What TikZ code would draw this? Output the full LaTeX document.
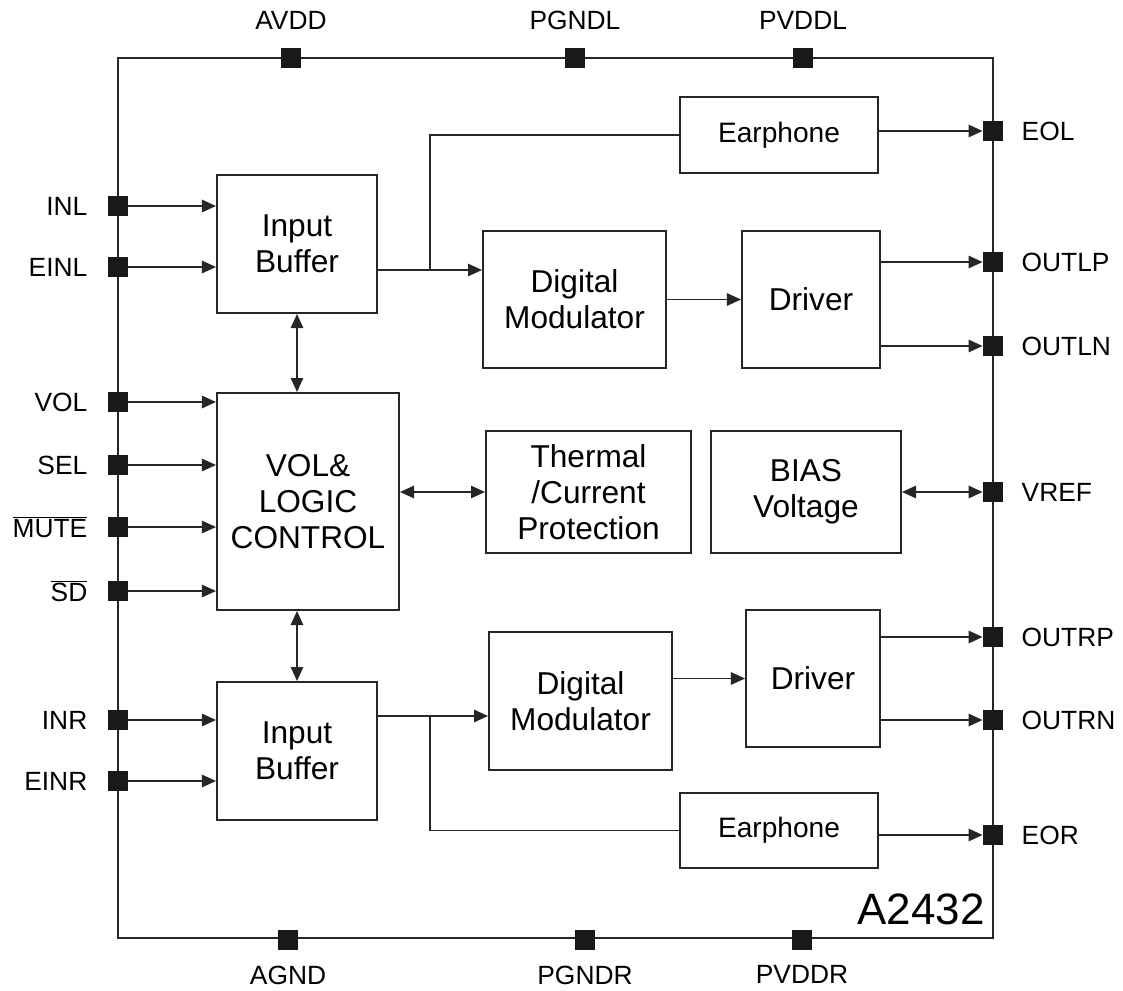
\documentclass[tikz,border=0pt]{standalone}
\usepackage{fontspec}
\setmainfont{Liberation Sans}
\usetikzlibrary{positioning, arrows.meta}

\begin{document}
\begin{tikzpicture}[
    x=0.02cm, y=-0.02cm,
    font=\fontsize{18}{20.5}\selectfont,
    block/.style={rectangle, draw=black!85, line width=1.1pt, align=center, inner sep=0pt},
    smallblock/.style={block, font=\fontsize{16}{18}\selectfont},
    pad/.style={rectangle, fill=black!90, minimum size=0.4cm, inner sep=0pt},
    pinlabel/.style={font=\fontsize{15}{18}\selectfont, inner sep=0pt},
    wire/.style={line width=1.1pt, color=black!85},
    sig/.style={wire, -{Triangle[length=8pt, width=7pt]}},
    bisig/.style={wire, {Triangle[length=8pt, width=7pt]}-{Triangle[length=8pt, width=7pt]}}
]
    \useasboundingbox (0,0) rectangle (1123,991);

    % chip outline
    \node[block, minimum width=17.5cm, minimum height=17.6cm] (chip) at (555.5,498) {};
    \node[font=\fontsize{25}{30}\selectfont, anchor=south east, inner sep=0pt] (partno) at (985,925) {A2432};

    % functional blocks
    \node[block, minimum width=3.2cm, minimum height=2.76cm] (bufL) at (297,244) {Input\\Buffer};
    \node[block, minimum width=3.66cm, minimum height=2.74cm] (modL) at (574.5,299.5) {Digital\\Modulator};
    \node[block, minimum width=2.76cm, minimum height=2.74cm] (drvL) at (811,299.5) {Driver};
    \node[smallblock, minimum width=3.96cm, minimum height=1.52cm] (earL) at (779,135) {Earphone};
    \node[block, minimum width=3.64cm, minimum height=4.34cm] (ctrl) at (308,501.5) {VOL\&\\LOGIC\\CONTROL};
    \node[block, minimum width=4.1cm, minimum height=2.44cm] (therm) at (588.5,492) {Thermal\\/Current\\Protection};
    \node[block, minimum width=3.8cm, minimum height=2.44cm] (bias) at (806,492) {BIAS\\Voltage};
    \node[block, minimum width=3.66cm, minimum height=2.76cm] (modR) at (580.5,701) {Digital\\Modulator};
    \node[block, minimum width=2.68cm, minimum height=2.74cm] (drvR) at (813,678.5) {Driver};
    \node[block, minimum width=3.2cm, minimum height=2.76cm] (bufR) at (297,751) {Input\\Buffer};
    \node[smallblock, minimum width=3.96cm, minimum height=1.5cm] (earR) at (779,830.5) {Earphone};

    % top and bottom pins
    \node[pad, label={[pinlabel, label distance=0.36cm]above:AVDD}] (avdd) at (291,58) {};
    \node[pad, label={[pinlabel, label distance=0.36cm]above:PGNDL}] (pgndl) at (575,58) {};
    \node[pad, label={[pinlabel, label distance=0.36cm]above:PVDDL}] (pvddl) at (803,58) {};
    \node[pad, label={[pinlabel, label distance=0.3cm]below:AGND}] (agnd) at (288,940) {};
    \node[pad, label={[pinlabel, label distance=0.3cm]below:PGNDR}] (pgndr) at (585,940) {};
    \node[pad, label={[pinlabel, label distance=0.3cm]below:PVDDR}] (pvddr) at (802,940) {};

    % left pins
    \node[pad, label={[pinlabel, label distance=0.4cm]left:INL}] (inl) at (118,206) {};
    \node[pad, label={[pinlabel, label distance=0.4cm]left:EINL}] (einl) at (118,267) {};
    \node[pad, label={[pinlabel, label distance=0.4cm]left:VOL}] (vol) at (118,402) {};
    \node[pad, label={[pinlabel, label distance=0.4cm]left:SEL}] (sel) at (118,465) {};
    \node[pad, label={[pinlabel, label distance=0.4cm]left:$\overline{\mbox{MUTE}}$}] (mute) at (118,527) {};
    \node[pad, label={[pinlabel, label distance=0.4cm]left:$\overline{\mbox{SD}}$}] (sd) at (118,591) {};
    \node[pad, label={[pinlabel, label distance=0.4cm]left:INR}] (inr) at (118,720) {};
    \node[pad, label={[pinlabel, label distance=0.4cm]left:EINR}] (einr) at (118,781) {};

    % right pins
    \node[pad, label={[pinlabel, label distance=0.36cm]right:EOL}] (eol) at (993,131) {};
    \node[pad, label={[pinlabel, label distance=0.36cm]right:OUTLP}] (outlp) at (993,262) {};
    \node[pad, label={[pinlabel, label distance=0.36cm]right:OUTLN}] (outln) at (993,346) {};
    \node[pad, label={[pinlabel, label distance=0.36cm]right:VREF}] (vref) at (993,492) {};
    \node[pad, label={[pinlabel, label distance=0.36cm]right:OUTRP}] (outrp) at (993,637) {};
    \node[pad, label={[pinlabel, label distance=0.36cm]right:OUTRN}] (outrn) at (993,720) {};
    \node[pad, label={[pinlabel, label distance=0.36cm]right:EOR}] (eor) at (993,835) {};

    \coordinate (splitL) at (430,270);
    \coordinate (splitR) at (430,716);

    % inputs
    \draw[sig] (inl.east) -- (inl -| bufL.west);
    \draw[sig] (einl.east) -- (einl -| bufL.west);
    \draw[sig] (vol.east) -- (vol -| ctrl.west);
    \draw[sig] (sel.east) -- (sel -| ctrl.west);
    \draw[sig] (mute.east) -- (mute -| ctrl.west);
    \draw[sig] (sd.east) -- (sd -| ctrl.west);
    \draw[sig] (inr.east) -- (inr -| bufR.west);
    \draw[sig] (einr.east) -- (einr -| bufR.west);

    % left channel
    \draw[sig] (bufL.east |- splitL) -- (modL.west |- splitL);
    \draw[wire] (splitL) |- (earL.west);
    \draw[sig] (modL.east) -- (drvL.west);
    \draw[sig] (eol -| earL.east) -- (eol.west);
    \draw[sig] (outlp -| drvL.east) -- (outlp.west);
    \draw[sig] (outln -| drvL.east) -- (outln.west);

    % control
    \draw[bisig] (bufL.south) -- (bufL.south |- ctrl.north);
    \draw[bisig] (bufR.north |- ctrl.south) -- (bufR.north);
    \draw[bisig] (ctrl.east |- therm.west) -- (therm.west);
    \draw[bisig] (bias.east |- vref) -- (vref.west);

    % right channel
    \draw[sig] (bufR.east |- splitR) -- (modR.west |- splitR);
    \draw[wire] (splitR) |- (earR.west);
    \draw[sig] (modR.east |- drvR.west) -- (drvR.west);
    \draw[sig] (outrp -| drvR.east) -- (outrp.west);
    \draw[sig] (outrn -| drvR.east) -- (outrn.west);
    \draw[sig] (eor -| earR.east) -- (eor.west);
\end{tikzpicture}
\end{document}
